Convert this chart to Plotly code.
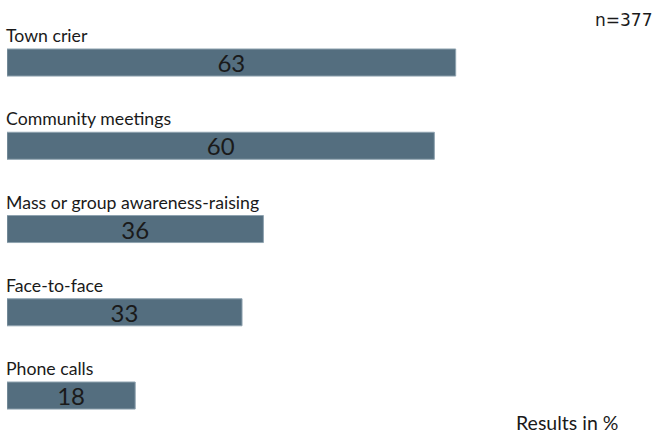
import plotly.graph_objects as go

categories = ["Town crier", "Community meetings", "Mass or group awareness-raising",
              "Face-to-face", "Phone calls"]
values = [63, 60, 36, 33, 18]
sample_note = "n=377"
unit_note = "Results in %"

BAR_COLOR = "#546e7f"
LABEL_FONT = "Lato, 'Open Sans', sans-serif"

fig = go.Figure(
    go.Bar(
        x=values,
        y=categories,
        orientation="h",
        width=0.325,
        marker=dict(color=BAR_COLOR, line=dict(color="#8fa3b0", width=1)),
        text=[str(v) for v in values],
        textposition="inside",
        insidetextanchor="middle",
        textangle=0,
        constraintext="none",
        textfont=dict(family=LABEL_FONT, size=24, color="#1a1a1a"),
        hoverinfo="skip",
    )
)

# Category names sit just above each bar, flush with its left edge
for cat in categories:
    fig.add_annotation(
        x=0, y=cat, xref="x", yref="y",
        text=cat, showarrow=False,
        xanchor="left", yanchor="middle",
        yshift=27, xshift=-3,
        font=dict(family=LABEL_FONT, size=17.7, color="#1a1a1a"),
    )

fig.add_annotation(
    x=1, y=1, xref="paper", yref="paper",
    text=sample_note, showarrow=False,
    xanchor="right", yanchor="top", xshift=6, yshift=-8,
    font=dict(family="'DejaVu Sans', sans-serif", size=17, color="#1a1a1a"),
)
fig.add_annotation(
    x=(620 - 7) / 641, y=(432 - 422) / 432, xref="paper", yref="paper",
    text=unit_note, showarrow=False,
    xanchor="right", yanchor="middle", height=18, valign="middle",
    font=dict(family=LABEL_FONT, size=19.5, color="#1a1a1a"),
)

fig.update_layout(
    width=658, height=432,
    margin=dict(l=7, r=10, t=0, b=0),
    paper_bgcolor="white", plot_bgcolor="white",
    showlegend=False,
    xaxis=dict(range=[0, 90], visible=False, fixedrange=True),
    yaxis=dict(type="category", categoryorder="array", categoryarray=categories,
               range=[4.438, -0.751], visible=False, fixedrange=True),
)

fig.write_html("out.html", config={"displayModeBar": False})
